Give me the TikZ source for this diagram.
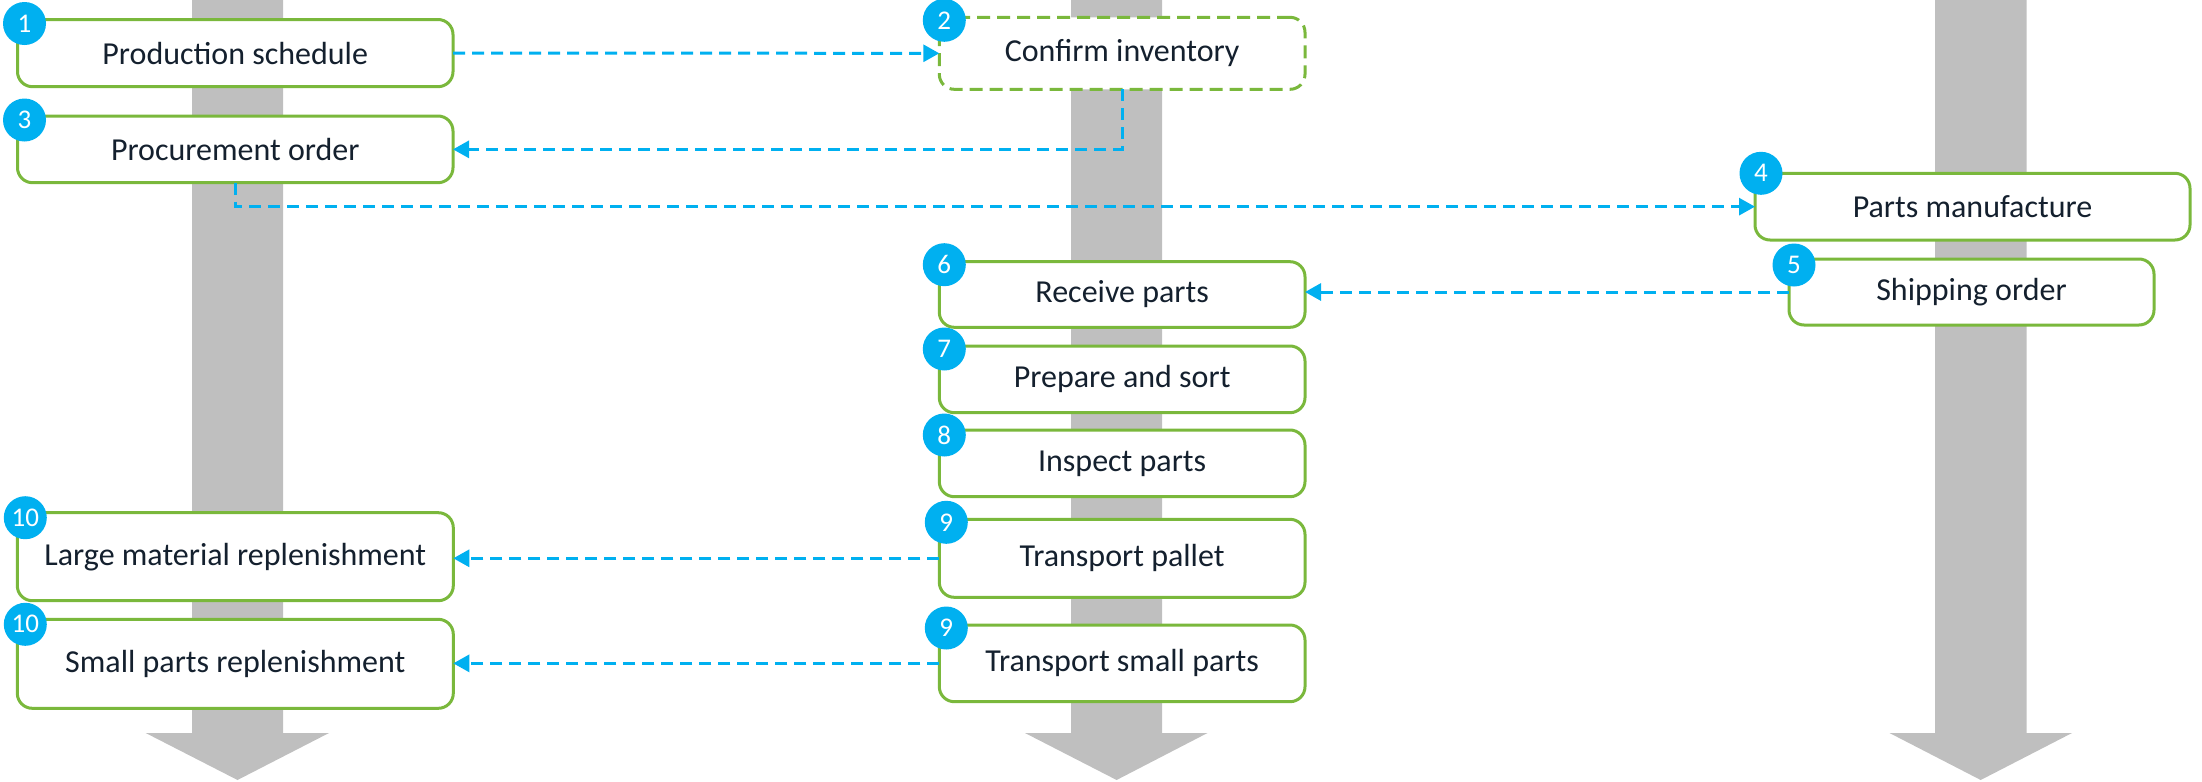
\documentclass[tikz,border=0pt]{standalone}
\usepackage{fontspec}
\setmainfont{Carlito}
\usetikzlibrary{arrows.meta,calc}
\definecolor{boxgreen}{HTML}{7AB83C}
\definecolor{linkblue}{HTML}{00B0F0}
\definecolor{bargray}{HTML}{BFBFBF}
\definecolor{textnavy}{HTML}{14202E}
\tikzset{
  stepbox/.style 2 args={draw=boxgreen, line width=1.5pt, fill=white, rounded corners=7.5pt,
    minimum width=#1*0.5pt, minimum height=#2*0.5pt, inner sep=0pt, outer sep=0pt,
    font=\fontsize{16}{19}\selectfont, text=textnavy},
  dashbox/.style={dash pattern=on 6.5pt off 3.5pt},
  badge/.style={circle, fill=linkblue, text=white, minimum size=21.5pt, inner sep=0pt,
    font=\fontsize{13.5}{15}\selectfont},
  link/.style={draw=linkblue, line width=1.5pt, dash pattern=on 6pt off 3.5pt,
    -{Triangle[length=8pt,width=8.5pt]}},
  flowbar/.style={fill=bargray, draw=none}
}
\begin{document}
\begin{tikzpicture}[x=0.5pt,y=-0.5pt]
\useasboundingbox (0,0) rectangle (2202,782);
% gray flow bars
\fill[flowbar] (192,0) -- (283,0) -- (283,733) -- (329,733) -- (237.5,780) -- (145.7,733) -- (192,733) -- cycle;
\fill[flowbar] (1071,0) -- (1162,0) -- (1162,733) -- (1207.5,733) -- (1116.6,780) -- (1025,733) -- (1071,733) -- cycle;
\fill[flowbar] (1935,0) -- (2026.5,0) -- (2026.5,733) -- (2072,733) -- (1980.7,780) -- (1889.5,733) -- (1935,733) -- cycle;
% boxes
\node[stepbox={435.5}{67.2}] (b1) at (235.25,53.1) {Production schedule};
\node[stepbox={365.7}{72}, dashbox] (b2) at (1122.15,53.3) {Confirm inventory};
\node[stepbox={435.5}{66.7}] (b3) at (235.25,149.35) {Procurement order};
\node[stepbox={435}{66.7}] (b4) at (1972.5,206.65) {Parts manufacture};
\node[stepbox={365}{66}] (b5) at (1971.5,292) {Shipping order};
\node[stepbox={365.7}{65.6}] (b6) at (1122.15,294.5) {Receive parts};
\node[stepbox={365.7}{66.7}] (b7) at (1122.15,379.35) {Prepare and sort};
\node[stepbox={365.7}{66.7}] (b8) at (1122.15,463.35) {Inspect parts};
\node[stepbox={365.7}{78}] (b9a) at (1122.15,558.3) {Transport pallet};
\node[stepbox={365.7}{76.7}] (b9b) at (1122.15,663.35) {Transport small parts};
\node[stepbox={436}{88}] (b10a) at (235.3,556.7) {Large material replenishment};
\node[stepbox={436}{89}] (b10b) at (235.3,663.8) {Small parts replenishment};
% connectors
\draw[link] (b1.east) -- (b2.west);
\draw[link] (b2.south) |- (b3.east);
\draw[link] (b3.south) |- (b4.west);
\draw[link] (b5.west) -- (b5.west -| b6.east);
\draw[link] (b9a.west) -- (b9a.west -| b10a.east);
\draw[link] (b9b.west) -- (b9b.west -| b10b.east);
% badges
\node[badge] (n1) at ($(b1.north west)+(7,4)$) {1};
\node[badge] (n2) at ($(b2.north west)+(5,3)$) {2};
\node[badge] (n3) at ($(b3.north west)+(7,4)$) {3};
\node[badge] (n4) at ($(b4.north west)+(6,0)$) {4};
\node[badge] (n5) at ($(b5.north west)+(5,6)$) {5};
\node[badge] (n6) at ($(b6.north west)+(5,3)$) {6};
\node[badge] (n7) at ($(b7.north west)+(5,3)$) {7};
\node[badge] (n8) at ($(b8.north west)+(5,5)$) {8};
\node[badge] (n9a) at ($(b9a.north west)+(7,3)$) {9};
\node[badge] (n9b) at ($(b9b.north west)+(7,3)$) {9};
\node[badge] (n10a) at ($(b10a.north west)+(8,5)$) {10};
\node[badge] (n10b) at ($(b10b.north west)+(8,5)$) {10};
\end{tikzpicture}
\end{document}
